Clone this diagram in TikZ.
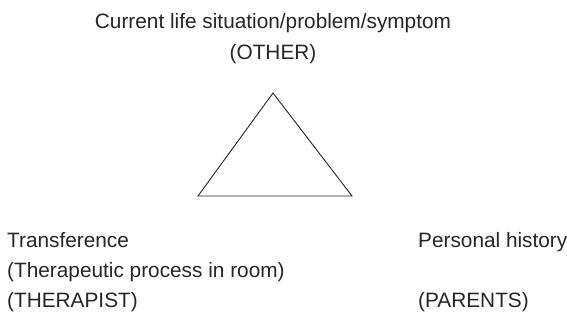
\documentclass[tikz,border=0pt]{standalone}
\usepackage{fontspec}
\setmainfont{Liberation Sans}
\usetikzlibrary{positioning}
\tikzset{
thin line/.style={line width=0.9pt, black!85},
label text/.style={inner sep=0pt, text height=15pt, text depth=4.5pt,
  font=\fontsize{20.8}{25}\selectfont, text=black!85},
node distance=10.5pt,
}

\begin{document}
\begin{tikzpicture}[x=1pt,y=-1pt]
    \useasboundingbox (0,0) rectangle (567,321);

    \node[label text, anchor=base] (cur) at (273,29) {Current life situation/problem/symptom};
    \node[label text, below=of cur] (other) {(OTHER)};

    \coordinate (apex) at (273,93);
    \coordinate (left) at (198,196);
    \coordinate (right) at (352,196);
    \draw[thin line] (apex) -- (left) -- (right) -- cycle;

    \node[label text, anchor=base west] (trans) at (7,247) {Transference};
    \node[label text, below=of trans.south west, anchor=north west] (process) {(Therapeutic process in room)};
    \node[label text, below=of process.south west, anchor=north west] (therapist) {(THERAPIST)};

    \node[label text, anchor=base west] (hist) at (418,247) {Personal history};
    \node[label text, anchor=base west] (parents) at (418,307) {(PARENTS)};

\end{tikzpicture}
\end{document}
